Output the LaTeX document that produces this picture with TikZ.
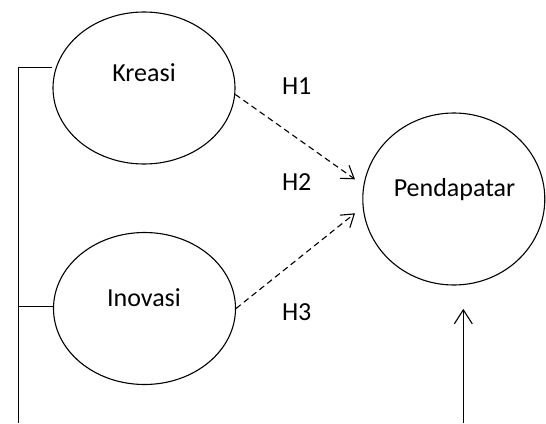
\documentclass[tikz,border=0pt]{standalone}
\usepackage{fontspec}
\setmainfont{Carlito}
\usetikzlibrary{shapes.geometric,arrows.meta}
\tikzset{
  oval/.style={draw, ellipse, line width=1.1pt, inner sep=0pt},
  lbl/.style={anchor=base, inner sep=0pt, font=\fontsize{26}{30}\selectfont},
  hyp/.style={draw, line width=1.1pt, dash pattern=on 6pt off 4pt, -{Straight Barb[length=12pt,width=16pt,line width=1.1pt]}},
  plain/.style={draw, line width=1.1pt},
  solidarrow/.style={draw, line width=1.1pt, -{Straight Barb[length=14pt,width=18pt,line width=1.1pt]}}
}
\begin{document}
\begin{tikzpicture}[x=1pt,y=-1pt]
\path[use as bounding box] (0,0) rectangle (546,423);
% ovals
\node[oval, minimum width=182pt, minimum height=152pt] (kreasi) at (144,88) {};
\node[oval, minimum width=182pt, minimum height=152pt] (inovasi) at (144.5,308.5) {};
\node[oval, minimum width=182pt, minimum height=172pt] (pend) at (453.8,199) {};
% texts
\node[lbl] (tk) at (144,81.7) {Kreasi};
\node[lbl] (ti) at (144,306) {Inovasi};
\node[lbl] (tp) at (454.5,196) {Pendapatar};
\node[lbl] (h1) at (296.7,94.3) {H1};
\node[lbl] (h2) at (296.7,190.7) {H2};
\node[lbl] (h3) at (296.7,320.7) {H3};
% left bracket
\coordinate (bt) at (18.3,67.7);
\coordinate (bm) at (18.3,306.7);
\coordinate (bb) at (18.3,423);
\path[plain] (bt) -- (bb);
\path[plain] (bt) -- (bt -| kreasi.west);
\path[plain] (bm) -- (bm -| inovasi.west);
% dashed arrows
\coordinate (e1) at (355,179.3);
\coordinate (e2) at (355,213.3);
\path[hyp] (kreasi.-4.4) -- (e1);
\path[hyp] (inovasi.east) -- (e2);
% vertical arrow
\coordinate (vb) at (463.3,423);
\path[solidarrow, shorten >=23.3pt] (vb) -- (vb |- pend.south);
\end{tikzpicture}
\end{document}
